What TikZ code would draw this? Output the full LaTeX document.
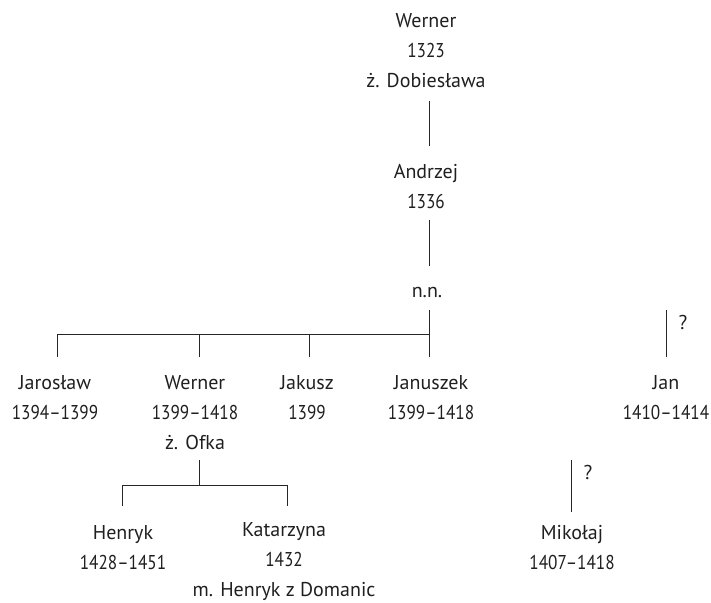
\documentclass[tikz,border=0pt]{standalone}
\usepackage{fontspec}
\setmainfont{PT Sans}
\newcommand\yrs[1]{{\addfontfeature{FakeStretch=0.86}#1}}
\begin{document}
\begin{tikzpicture}[x=1pt,y=-1pt,
  person/.style={align=center,inner sep=0pt,anchor=base,font={\fontsize{20}{30}\selectfont},text=black!88},
  qm/.style={inner sep=0pt,font={\fontsize{20}{30}\selectfont},text=black!88},
  link/.style={line width=0.9pt,black!85}]
\useasboundingbox (0,0) rectangle (711,602);
% people (anchor = baseline of the last line)
\node[person] (werner)   at (426,87)  {Werner\\\yrs{1323}\\ż. Dobiesława};
\node[person] (andrzej)  at (426,208) {Andrzej\\\yrs{1336}};
\node[person] (nn)       at (427,297) {n.n.};
\node[person] (jaroslaw) at (55,419)  {Jarosław\\\yrs{1394–1399}};
\node[person] (wernerb)  at (195,449) {Werner\\\yrs{1399–1418}\\ż. Ofka};
\node[person] (jakusz)   at (307,419) {Jakusz\\\yrs{1399}};
\node[person] (januszek) at (431,419) {Januszek\\\yrs{1399–1418}};
\node[person] (jan)      at (666,419) {Jan\\\yrs{1410–1414}};
\node[person] (henryk)   at (123,569) {Henryk\\\yrs{1428–1451}};
\node[person] (katarzyna) at (284,596) {Katarzyna\\\yrs{1432}\\m. Henryk z Domanic};
\node[person] (mikolaj)  at (572,569) {Mikołaj\\\yrs{1407–1418}};
% level coordinates
\coordinate (t1) at (429,101);
\coordinate (b1) at (429,146);
\coordinate (t2) at (429,220);
\coordinate (b2) at (429,266);
\coordinate (t3) at (429,310);
\coordinate (bar3) at (429,334);
\coordinate (b3) at (429,357);
\coordinate (t4) at (199,460);
\coordinate (bar4) at (199,485);
\coordinate (b4) at (199,506);
% connectors
\draw[link] (t1) -- (b1);
\draw[link] (t2) -- (b2);
\draw[link] (t3) -- (b3);
\draw[link] (bar3) -- (bar3 -| 57,0) -- ++(0,23);
\draw[link] (bar3 -| 199,0) -- ++(0,23);
\draw[link] (bar3 -| 309,0) -- ++(0,23);
\draw[link] (t3 -| 666,0) -- (b3 -| 666,0);
\node[qm] (q1) at (683,322) {?};
\draw[link] (t4) -- (bar4);
\draw[link] (bar4 -| 122,0) -- (bar4 -| 287,0);
\draw[link] (bar4 -| 122,0) -- (b4 -| 122,0);
\draw[link] (bar4 -| 287,0) -- (b4 -| 287,0);
\draw[link] (t4 -| 571,0) -- (571,512);
\node[qm] (q2) at (588,472) {?};
\end{tikzpicture}
\end{document}
